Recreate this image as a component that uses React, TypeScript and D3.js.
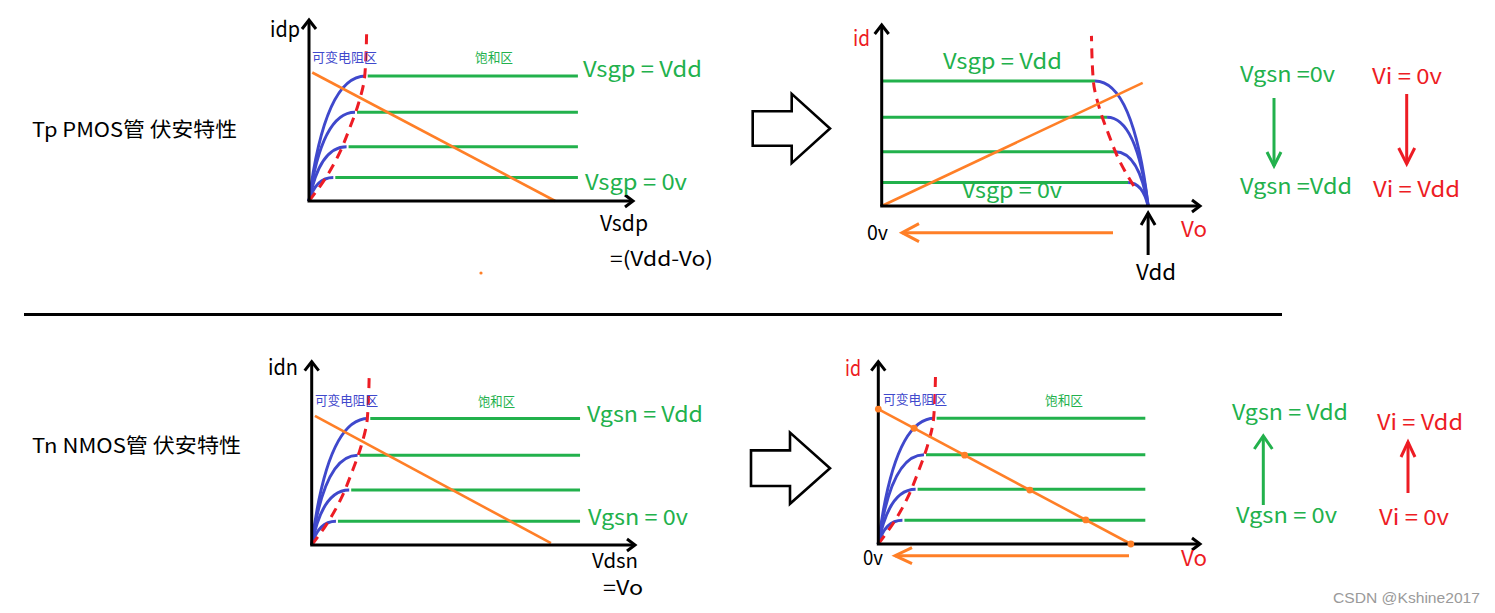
import { useEffect, useRef } from "react";
import * as d3 from "d3";

const W = 1495;
const H = 613;

const GREEN = "#22b14c";
const BLUE = "#3f48cc";
const RED = "#ed1c24";
const ORANGE = "#ff7f27";

// axis units are 0..100 along each drawn axis
// saturation current of each Vgs step (top = Vgs max)
const gateLevels = [69, 49, 30, 13];
// Vds where each curve leaves the variable-resistance region
const kneeVds = [17.5, 14.2, 11.6, 7.5];
const satEnd = 83;
// pinch-off boundary (red dashed)
const pinchOff: [number, number][] = [
  [0, 0],
  [4.5, 11],
  [9, 25],
  [12.5, 40],
  [15.3, 54],
  [17.2, 69],
  [17.8, 94],
];
// PMOS redrawn against Vo = Vdd - Vsdp
const vdd = 83.7;
const kneeVo = [67, 70.8, 73.3, 77.4];
// load lines
const loadPmos: [number, number][] = [
  [1, 71],
  [76, 0],
];
const loadPmosVo: [number, number][] = [
  [0, 0],
  [82, 68],
];
const loadNmos: [number, number][] = [
  [1, 70.5],
  [74, 1],
];
const loadNmosVo: [number, number][] = [
  [0, 74],
  [78.5, 0],
];
// operating points marked on the NMOS load line (id values)
const opPoints = [74, 63.5, 48.7, 29.6, 13.2, 0];

type Frame = { x0: number; y0: number; x1: number; y1: number };

export default function App() {
  const svgRef = useRef<SVGSVGElement>(null);

  useEffect(() => {
    if (!svgRef.current) return;
    const svg = d3.select(svgRef.current);
    svg.selectAll("*").remove();

    const label = (
      t: string,
      x: number,
      y: number,
      w: number,
      size: number,
      fill: string
    ) =>
      svg
        .append("text")
        .attr("x", x)
        .attr("y", y)
        .attr("font-size", size)
        .attr("fill", fill)
        .attr("textLength", w)
        .attr("lengthAdjust", "spacingAndGlyphs")
        .text(t);

    const seg = (
      x1: number,
      y1: number,
      x2: number,
      y2: number,
      color: string,
      sw = 3
    ) =>
      svg
        .append("line")
        .attr("x1", x1)
        .attr("y1", y1)
        .attr("x2", x2)
        .attr("y2", y2)
        .attr("stroke", color)
        .attr("stroke-width", sw);

    // open "V" arrow head
    const head = (
      tx: number,
      ty: number,
      dx: number,
      dy: number,
      back: number,
      half: number,
      color: string,
      sw = 3
    ) => {
      const bx = tx - dx * back;
      const by = ty - dy * back;
      const px = -dy;
      const py = dx;
      svg
        .append("path")
        .attr(
          "d",
          `M${bx + px * half},${by + py * half}L${tx},${ty}L${bx - px * half},${by - py * half}`
        )
        .attr("fill", "none")
        .attr("stroke", color)
        .attr("stroke-width", sw);
    };

    const arrow = (
      x1: number,
      y1: number,
      x2: number,
      y2: number,
      color: string,
      back = 14,
      half = 7
    ) => {
      seg(x1, y1, x2, y2, color);
      const len = Math.hypot(x2 - x1, y2 - y1);
      head(x2, y2, (x2 - x1) / len, (y2 - y1) / len, back, half, color);
    };

    const scales = (f: Frame) => ({
      x: d3.scaleLinear().domain([0, 100]).range([f.x0, f.x1]),
      y: d3.scaleLinear().domain([0, 100]).range([f.y0, f.y1]),
    });

    const axes = (f: Frame) => {
      seg(f.x0, f.y0, f.x0, f.y1, "#000");
      seg(f.x0 - 1.5, f.y0, f.x1, f.y0, "#000");
      head(f.x0, f.y1, 0, -1, 9, 7, "#000");
      head(f.x1, f.y0, 1, 0, 8, 6, "#000");
    };

    const dashed = (
      pts: [number, number][],
      x: d3.ScaleLinear<number, number>,
      y: d3.ScaleLinear<number, number>
    ) =>
      svg
        .append("path")
        .attr(
          "d",
          d3
            .line<[number, number]>()
            .x((d) => x(d[0]))
            .y((d) => y(d[1]))
            .curve(d3.curveMonotoneY)(pts)
        )
        .attr("fill", "none")
        .attr("stroke", RED)
        .attr("stroke-width", 3)
        .attr("stroke-dasharray", "10,7");

    const loadLine = (
      pts: [number, number][],
      x: d3.ScaleLinear<number, number>,
      y: d3.ScaleLinear<number, number>
    ) => seg(x(pts[0][0]), y(pts[0][1]), x(pts[1][0]), y(pts[1][1]), ORANGE, 2.6);

    // output characteristic family (origin on the left)
    const family = (f: Frame, load: [number, number][]) => {
      const { x, y } = scales(f);
      gateLevels.forEach((L, i) => {
        seg(x(kneeVds[i]) + 2, y(L), x(satEnd), y(L), GREEN);
      });
      gateLevels.forEach((L, i) => {
        const k = kneeVds[i];
        const p = d3.path();
        p.moveTo(x(0), y(0));
        p.quadraticCurveTo(x(k * 0.28), y(L), x(k), y(L));
        svg
          .append("path")
          .attr("d", p.toString())
          .attr("fill", "none")
          .attr("stroke", BLUE)
          .attr("stroke-width", 3);
      });
      dashed(pinchOff, x, y);
      loadLine(load, x, y);
      axes(f);
      return { x, y };
    };

    svg.attr("font-family", "'Noto Sans CJK SC', 'Noto Sans', sans-serif");

    // ---------- PMOS, Vsdp axis ----------
    const f1: Frame = { x0: 309, y0: 201, x1: 633, y1: 20 };
    family(f1, loadPmos);
    svg.append("circle").attr("cx", 481).attr("cy", 273).attr("r", 1.6).attr("fill", ORANGE);
    label("idp", 270, 37, 30, 22, "#000");
    label("可变电阻区", 312, 62, 65, 13, BLUE);
    label("饱和区", 475, 62, 38, 13, GREEN);
    label("Vsgp = Vdd", 583, 77, 119, 22, GREEN);
    label("Vsgp = 0v", 585, 190, 102, 22, GREEN);
    label("Vsdp", 600, 231, 48, 21, "#000");
    label("=(Vdd-Vo)", 610, 266, 103, 20, "#000");
    label("Tp PMOS管 伏安特性", 32, 137, 205, 20, "#000");

    // ---------- PMOS against Vo ----------
    const f2: Frame = { x0: 881.7, y0: 206, x1: 1200, y1: 25 };
    {
      const { x, y } = scales(f2);
      gateLevels.forEach((L, i) => {
        seg(x(0.4), y(L), x(kneeVo[i]), y(L), GREEN);
      });
      gateLevels.forEach((L, i) => {
        const k = kneeVo[i];
        const p = d3.path();
        p.moveTo(x(k), y(L));
        p.quadraticCurveTo(x(vdd - (vdd - k) * 0.28), y(L), x(vdd), y(0));
        svg
          .append("path")
          .attr("d", p.toString())
          .attr("fill", "none")
          .attr("stroke", BLUE)
          .attr("stroke-width", 3);
      });
      dashed(
        pinchOff.map(([a, b]) => [vdd - a, b] as [number, number]).slice(1),
        x,
        y
      );
      loadLine(loadPmosVo, x, y);
      axes(f2);
      arrow(x(vdd), 255, x(vdd), 213, "#000", 12, 7);
      arrow(1113, 232.7, 902, 232.7, ORANGE, 17, 9);
    }
    label("id", 853, 46, 17, 21, RED);
    label("Vsgp = Vdd", 943, 69, 119, 21, GREEN);
    label("Vsgp = 0v", 962, 198, 100, 21, GREEN);
    label("0v", 867, 240, 21, 20, "#000");
    label("Vo", 1181, 237, 26, 21, RED);
    label("Vdd", 1136, 280, 40, 21, "#000");

    label("Vgsn =0v", 1240, 82, 95, 21, GREEN);
    label("Vgsn =Vdd", 1240, 194, 112, 21, GREEN);
    label("Vi = 0v", 1372, 84, 70, 21, RED);
    label("Vi = Vdd", 1373, 197, 87, 21, RED);
    arrow(1274, 98, 1274, 166, GREEN, 14, 7);
    arrow(1406.7, 94, 1406.7, 164, RED, 16, 8);

    // ---------- divider ----------
    seg(24, 314.5, 1282, 314.5, "#000", 3);

    // ---------- NMOS, Vdsn axis ----------
    const f3: Frame = { x0: 311.7, y0: 545, x1: 635, y1: 361.7 };
    family(f3, loadNmos);
    label("idn", 268, 375, 30, 22, "#000");
    label("可变电阻区", 315, 405, 63, 13, BLUE);
    label("饱和区", 478, 406, 37, 13, GREEN);
    label("Vgsn = Vdd", 587, 422, 116, 21, GREEN);
    label("Vgsn = 0v", 588, 525, 100, 21, GREEN);
    label("Vdsn", 592, 568, 46, 20, "#000");
    label("=Vo", 603, 595, 40, 20, "#000");
    label("Tn NMOS管 伏安特性", 32, 453, 209, 20, "#000");

    // ---------- NMOS against Vo ----------
    const f4: Frame = { x0: 878.3, y0: 544, x1: 1200, y1: 361.7 };
    {
      const { x, y } = family(f4, loadNmosVo);
      const [[ax, ay], [bx]] = loadNmosVo;
      opPoints.forEach((id) => {
        const v = ax + (bx - ax) * (1 - id / ay);
        svg
          .append("circle")
          .attr("cx", x(v))
          .attr("cy", y(id))
          .attr("r", 3.4)
          .attr("fill", ORANGE);
      });
      arrow(1129, 555.7, 895, 555.7, ORANGE, 17, 8);
    }
    label("id", 845, 376, 16, 21, RED);
    label("可变电阻区", 883, 404, 64, 13, BLUE);
    label("饱和区", 1045, 405, 38, 13, GREEN);
    label("0v", 863, 565, 20, 20, "#000");
    label("Vo", 1181, 566, 26, 21, RED);

    label("Vgsn = Vdd", 1232, 420, 116, 21, GREEN);
    label("Vgsn = 0v", 1236, 523, 101, 21, GREEN);
    label("Vi = Vdd", 1377, 430, 86, 21, RED);
    label("Vi = 0v", 1379, 525, 70, 21, RED);
    arrow(1263.3, 505, 1263.3, 436, GREEN, 13, 9);
    arrow(1408, 493, 1408, 442, RED, 15, 7);

    // ---------- block arrows ----------
    const block = (sx0: number, sx1: number, tip: number, cy: number, sh: number, hh: number) =>
      svg
        .append("polygon")
        .attr(
          "points",
          [
            [sx0, cy - sh],
            [sx1, cy - sh],
            [sx1, cy - hh],
            [tip, cy],
            [sx1, cy + hh],
            [sx1, cy + sh],
            [sx0, cy + sh],
          ]
            .map((p) => p.join(","))
            .join(" ")
        )
        .attr("fill", "#fff")
        .attr("stroke", "#000")
        .attr("stroke-width", 2.6);
    block(752.7, 791.7, 830, 128.5, 17.2, 34.6);
    block(751, 790, 830, 468.2, 17.8, 35.6);

    svg
      .append("text")
      .attr("x", 1333)
      .attr("y", 603)
      .attr("font-size", 14)
      .attr("font-family", "'Liberation Sans', Arial, sans-serif")
      .attr("fill", "#9a9a9a")
      .attr("textLength", 147)
      .attr("lengthAdjust", "spacingAndGlyphs")
      .text("CSDN @Kshine2017");
  }, []);

  return (
    <svg
      ref={svgRef}
      width={W}
      height={H}
      style={{ position: "absolute", left: 0, top: 0, background: "#fff" }}
    />
  );
}
